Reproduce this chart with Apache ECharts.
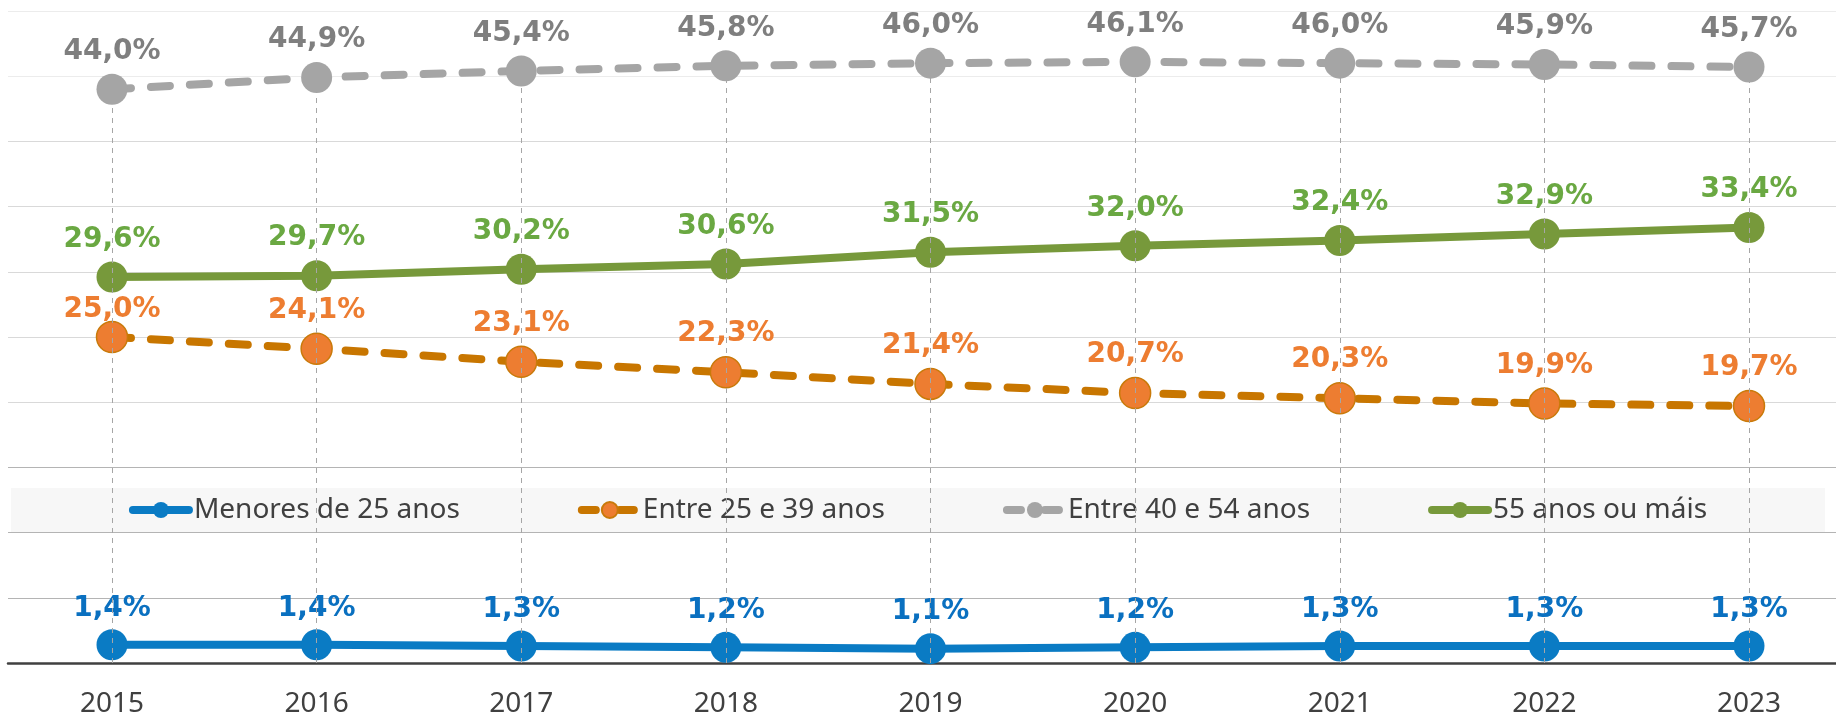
<!DOCTYPE html>
<html style="height: 100%">
    <head>
        <meta charset="utf-8">
    </head>
    <body style="height: 100%; margin: 0; background: #ffffff">
        <div id="container" style="width: 1836px; height: 718px"></div>

        <script type="text/javascript" src="https://cdn.jsdelivr.net/npm/echarts@6/dist/echarts.min.js"></script>

        <script type="text/javascript">
var dom = document.getElementById("container");
var myChart = echarts.init(dom);

var years = ['2015', '2016', '2017', '2018', '2019', '2020', '2021', '2022', '2023'];

var names = ['Menores de 25 anos', 'Entre 25 e 39 anos', 'Entre 40 e 54 anos', '55 anos ou máis'];

var menores25 = [1.4, 1.4, 1.3, 1.2, 1.1, 1.2, 1.3, 1.3, 1.3];
var entre25e39 = [25.0, 24.1, 23.1, 22.3, 21.4, 20.7, 20.3, 19.9, 19.7];
var entre40e54 = [44.0, 44.9, 45.4, 45.8, 46.0, 46.1, 46.0, 45.9, 45.7];
var mais55 = [29.6, 29.7, 30.2, 30.6, 31.5, 32.0, 32.4, 32.9, 33.4];

var fmt = function (p) {
    return p.value.toFixed(1).replace('.', ',') + '%';
};

var labelFont = 'DejaVu Sans';

// caída punteada desde cada punto gris ata o eixo
var dropLines = years.map(function (y, i) {
    return [{ coord: [i, 0] }, { coord: [i, entre40e54[i]] }];
});

var gridTop = 11, gridBottom = 55;

var dashedIcon = { type: [14, 24], width: 8, cap: 'round' };

var option = {
    animation: false,
    backgroundColor: '#ffffff',
    grid: [
        { left: 8, right: 0, top: gridTop, bottom: gridBottom },
        { left: 112, right: 87, top: gridTop, bottom: gridBottom }
    ],
    legend: {
        data: [
            { name: names[0] },
            { name: names[1], lineStyle: dashedIcon },
            { name: names[2], lineStyle: dashedIcon },
            { name: names[3] }
        ],
        left: 'center',
        top: 488,
        backgroundColor: '#f7f7f7',
        padding: [8, 118],
        itemGap: 118,
        itemWidth: 56,
        itemHeight: 20,
        lineStyle: { width: 8, cap: 'round' },
        textStyle: {
            fontFamily: 'Noto Sans',
            fontSize: 28,
            color: '#404040'
        }
    },
    xAxis: [
        {
            gridIndex: 0, type: 'value', min: 0, max: 1,
            axisLine: { show: true, onZero: false, lineStyle: { color: '#404040', width: 2.5 } },
            axisTick: { show: false }, axisLabel: { show: false }, splitLine: { show: false }
        },
        {
            gridIndex: 1, type: 'category', data: years, boundaryGap: false,
            axisLine: { show: false }, axisTick: { show: false },
            axisLabel: { margin: 27, fontFamily: 'Noto Sans', fontSize: 28, color: '#404040' },
            splitLine: { show: false }
        }
    ],
    yAxis: [
        {
            gridIndex: 0, type: 'value', min: 0, max: 50, interval: 5,
            axisLine: { show: false }, axisTick: { show: false }, axisLabel: { show: false },
            splitLine: {
                show: true,
                lineStyle: {
                    width: 1,
                    color: ['#ffffff', '#b4b4b4', '#b4b4b4', '#b4b4b4', '#d9d9d9', '#d9d9d9',
                            '#d9d9d9', '#d9d9d9', '#d9d9d9', '#ececec', '#ececec']
                }
            }
        },
        {
            gridIndex: 1, type: 'value', min: 0, max: 50, interval: 5,
            show: false
        }
    ],
    series: [
        {
            name: names[0],
            type: 'line',
            xAxisIndex: 1, yAxisIndex: 1,
            data: menores25,
            symbol: 'circle',
            symbolSize: 31,
            color: '#0a7bc4',
            lineStyle: { width: 8, color: '#0a7bc4' },
            itemStyle: { color: '#0a7bc4' },
            label: {
                show: true, position: 'top', distance: 7, formatter: fmt,
                fontFamily: labelFont, fontWeight: 'bold', fontSize: 28, color: '#0a70c0'
            },
            z: 2
        },
        {
            name: names[1],
            type: 'line',
            xAxisIndex: 1, yAxisIndex: 1,
            data: entre25e39.map(function (v, i) {
                // a primeira etiqueta vai máis baixa para non tocar a liña verde
                return i === 0 ? { value: v, label: { offset: [0, 11] } } : v;
            }),
            symbol: 'circle',
            symbolSize: 31,
            color: '#ed7d31',
            lineStyle: { width: 8, color: '#c87600', type: [19, 20], cap: 'round' },
            itemStyle: { color: '#ed7d31', borderColor: '#c97a0a', borderWidth: 1.5 },
            label: {
                show: true, position: 'top', distance: 8, formatter: fmt,
                fontFamily: labelFont, fontWeight: 'bold', fontSize: 28, color: '#ed7d31'
            },
            z: 2
        },
        {
            name: names[2],
            type: 'line',
            xAxisIndex: 1, yAxisIndex: 1,
            data: entre40e54,
            symbol: 'circle',
            symbolSize: 31,
            color: '#a5a5a5',
            lineStyle: { width: 8, color: '#a5a5a5', type: [19, 20], cap: 'round' },
            itemStyle: { color: '#a5a5a5' },
            label: {
                show: true, position: 'top', distance: 8, formatter: fmt,
                fontFamily: labelFont, fontWeight: 'bold', fontSize: 28, color: '#7f7f7f'
            },
            markLine: {
                silent: true,
                z: 5,
                symbol: 'none',
                label: { show: false },
                lineStyle: { color: '#a6a6a6', width: 1, type: [5, 5] },
                emphasis: { disabled: true },
                data: dropLines
            },
            z: 6
        },
        {
            name: names[3],
            type: 'line',
            xAxisIndex: 1, yAxisIndex: 1,
            data: mais55,
            symbol: 'circle',
            symbolSize: 31,
            color: '#77993b',
            lineStyle: { width: 8, color: '#77993b' },
            itemStyle: { color: '#77993b' },
            label: {
                show: true, position: 'top', distance: 8, formatter: fmt,
                fontFamily: labelFont, fontWeight: 'bold', fontSize: 28, color: '#6aa842'
            },
            z: 2
        }
    ]
};

if (option && typeof option === 'object') {
    myChart.setOption(option);
}
        </script>
    </body>
</html>
